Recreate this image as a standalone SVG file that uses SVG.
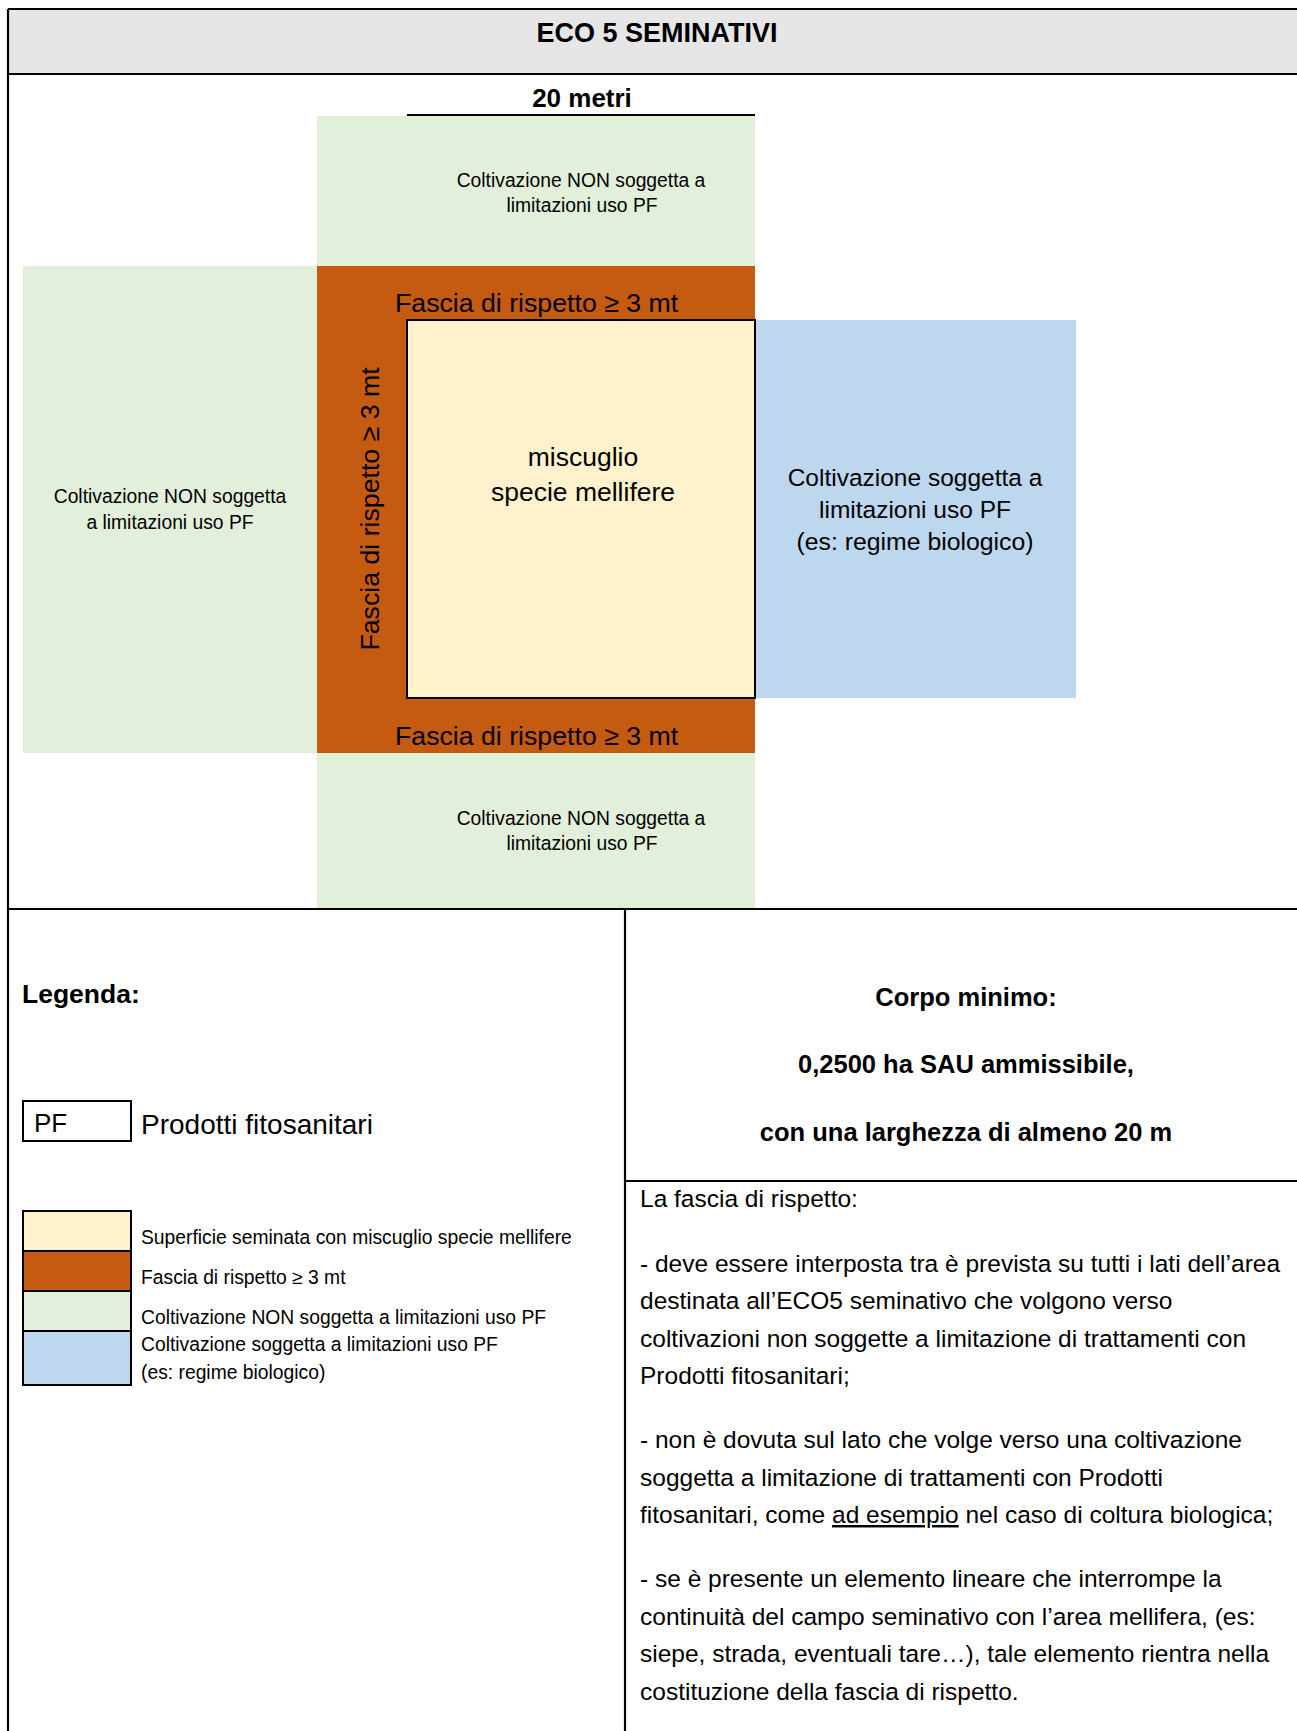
<svg xmlns="http://www.w3.org/2000/svg" width="1297" height="1731" viewBox="0 0 1297 1731">
<style>
text{font-family:"Liberation Sans",Arial,sans-serif;fill:#000}
.b{font-weight:bold}
.g{fill:#e2efda}
.o{fill:#c55a11}
.y{fill:#fff2cc;stroke:#000;stroke-width:2}
.bl{fill:#bdd7ee}
.ln{stroke:#000;stroke-width:2.2;fill:none}
.sm{font-size:19.3px}
.fa{font-size:26.7px}
.p{font-size:24.5px}
.c{text-anchor:middle}
</style>
<rect x="0" y="0" width="1297" height="1731" fill="#fff"/>
<g id="header">
<rect x="8" y="9" width="1300" height="65" fill="#e7e6e6"/>
<text class="b c" x="657" y="42" font-size="27">ECO 5 SEMINATIVI</text>
</g>
<g id="dimension">
<text class="b c" x="582" y="107" font-size="26">20 metri</text>
<line class="ln" x1="407" y1="115" x2="755" y2="115"/>
</g>
<g id="green-top">
<rect class="g" x="317" y="116" width="438" height="150"/>
<text class="sm c" x="581" y="187">Coltivazione NON soggetta a</text>
<text class="sm c" x="582" y="212">limitazioni uso PF</text>
</g>
<g id="green-left">
<rect class="g" x="23" y="266" width="294" height="487"/>
<text class="sm c" x="170" y="503">Coltivazione NON soggetta</text>
<text class="sm c" x="170" y="529">a limitazioni uso PF</text>
</g>
<g id="fascia">
<rect class="o" x="317" y="266" width="438" height="487"/>
<text class="fa" x="395" y="312">Fascia di rispetto ≥ 3 mt</text>
<text class="fa" x="395" y="745">Fascia di rispetto ≥ 3 mt</text>
<text class="fa c" transform="translate(379 509) rotate(-90)">Fascia di rispetto ≥ 3 mt</text>
</g>
<g id="green-bottom">
<rect class="g" x="317" y="753" width="438" height="155"/>
<text class="sm c" x="581" y="825">Coltivazione NON soggetta a</text>
<text class="sm c" x="582" y="850">limitazioni uso PF</text>
</g>
<g id="blue">
<rect class="bl" x="755" y="320" width="321" height="378"/>
<text class="c" x="915" y="486" font-size="24.5">Coltivazione soggetta a</text>
<text class="c" x="915" y="518" font-size="24.5">limitazioni uso PF</text>
<text class="c" x="915" y="550" font-size="24.8">(es: regime biologico)</text>
</g>
<g id="mellifere">
<rect class="y" x="407" y="320" width="348" height="378"/>
<text class="c" x="583" y="466" font-size="26.5">miscuglio</text>
<text class="c" x="583" y="501" font-size="26.5">specie mellifere</text>
</g>
<g id="legend">
<text class="b" x="22" y="1003" font-size="26.5">Legenda:</text>
<rect x="23" y="1101" width="108" height="40" fill="#fff" stroke="#000" stroke-width="2"/>
<text x="34" y="1132" font-size="26">PF</text>
<text x="141" y="1134" font-size="28">Prodotti fitosanitari</text>
<rect x="23" y="1211" width="108" height="40" fill="#fff2cc" stroke="#000" stroke-width="2"/>
<rect x="23" y="1251" width="108" height="40" fill="#c55a11" stroke="#000" stroke-width="2"/>
<rect x="23" y="1291" width="108" height="40" fill="#e2efda" stroke="#000" stroke-width="2"/>
<rect x="23" y="1331" width="108" height="54" fill="#bdd7ee" stroke="#000" stroke-width="2"/>
<text class="sm" x="141" y="1244">Superficie seminata con miscuglio specie mellifere</text>
<text class="sm" x="141" y="1284">Fascia di rispetto ≥ 3 mt</text>
<text class="sm" x="141" y="1324">Coltivazione NON soggetta a limitazioni uso PF</text>
<text class="sm" x="141" y="1351">Coltivazione soggetta a limitazioni uso PF</text>
<text class="sm" x="141" y="1379">(es: regime biologico)</text>
</g>
<g id="corpo-minimo">
<text class="b c" x="966" y="1006" font-size="25.5">Corpo minimo:</text>
<text class="b c" x="966" y="1073" font-size="25.5">0,2500 ha SAU ammissibile,</text>
<text class="b c" x="966" y="1141" font-size="25.5">con una larghezza di almeno 20 m</text>
</g>
<g id="note">
<text class="p" x="640" y="1207">La fascia di rispetto:</text>
<text class="p" x="640" y="1272">- deve essere interposta tra è prevista su tutti i lati dell’area</text>
<text class="p" x="640" y="1309">destinata all’ECO5 seminativo che volgono verso</text>
<text class="p" x="640" y="1347">coltivazioni non soggette a limitazione di trattamenti con</text>
<text class="p" x="640" y="1384">Prodotti fitosanitari;</text>
<text class="p" x="640" y="1448">- non è dovuta sul lato che volge verso una coltivazione</text>
<text class="p" x="640" y="1486">soggetta a limitazione di trattamenti con Prodotti</text>
<text class="p" x="640" y="1523">fitosanitari, come <tspan text-decoration="underline">ad esempio</tspan> nel caso di coltura biologica;</text>
<text class="p" x="640" y="1587">- se è presente un elemento lineare che interrompe la</text>
<text class="p" x="640" y="1625">continuità del campo seminativo con l’area mellifera, (es:</text>
<text class="p" x="640" y="1662">siepe, strada, eventuali tare…), tale elemento rientra nella</text>
<text class="p" x="640" y="1700">costituzione della fascia di rispetto.</text>
</g>
<g id="connectors">
<line class="ln" x1="8" y1="9" x2="1297" y2="9"/>
<line class="ln" x1="8" y1="9" x2="8" y2="1731"/>
<line class="ln" x1="8" y1="74" x2="1297" y2="74"/>
<line class="ln" x1="8" y1="909" x2="1297" y2="909"/>
<line class="ln" x1="625" y1="909" x2="625" y2="1731"/>
<line class="ln" x1="625" y1="1181" x2="1297" y2="1181"/>
</g>
</svg>
